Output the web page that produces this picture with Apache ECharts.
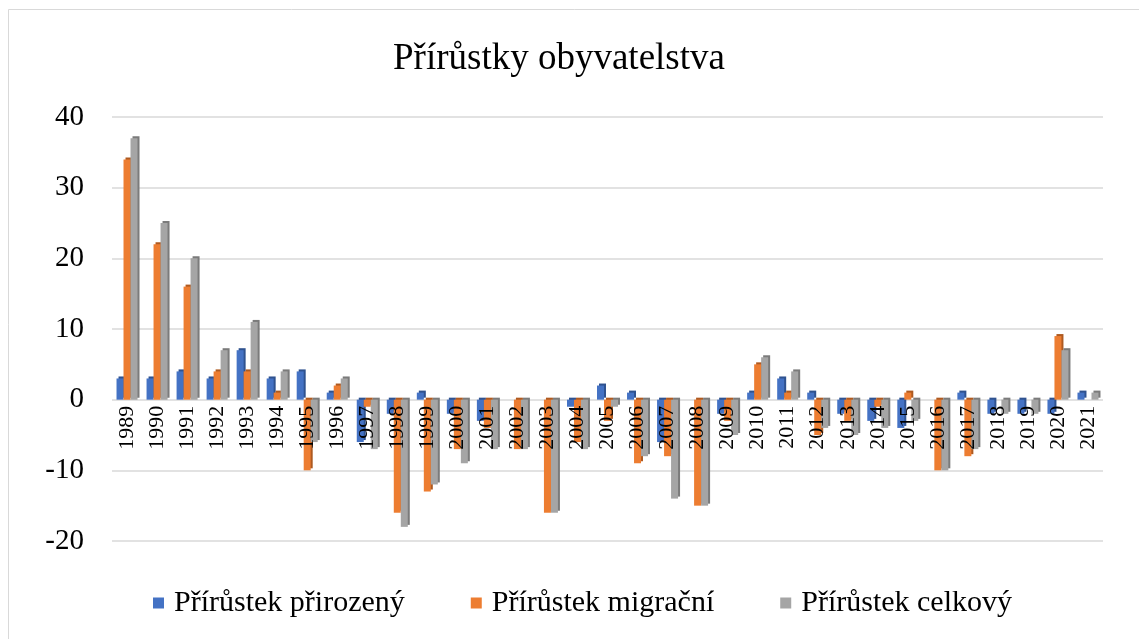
<!DOCTYPE html>
<html>
<head>
<meta charset="utf-8">
<script src="https://cdn.jsdelivr.net/npm/echarts@6/dist/echarts.min.js"></script>
<style>
html,body{margin:0;padding:0;background:#fff;}
#chart{width:1139px;height:639px;}
</style>
</head>
<body>
<div id="chart"></div>
<script>
const titleText = 'Přírůstky obyvatelstva';
const years = ['1989','1990','1991','1992','1993','1994','1995','1996','1997','1998','1999','2000','2001','2002','2003','2004','2005','2006','2007','2008','2009','2010','2011','2012','2013','2014','2015','2016','2017','2018','2019','2020','2021'];
const seriesNames = ['Přírůstek přirozený','Přírůstek migrační','Přírůstek celkový'];
const prirozeny = [3,3,4,3,7,3,4,1,-6,-2,1,-2,-3,0,0,-1,2,1,-6,0,-2,1,3,1,-2,-3,-4,0,1,-2,-2,-2,1];
const migracni  = [34,22,16,4,4,1,-10,2,-1,-16,-13,-7,-4,-7,-16,-6,-3,-9,-8,-15,-3,5,1,-5,-3,-1,1,-10,-8,0,0,9,0];
const celkovy   = [37,25,20,7,11,4,-6,3,-7,-18,-12,-9,-7,-7,-16,-7,-1,-8,-14,-15,-5,6,4,-4,-5,-4,-3,-10,-7,-2,-2,7,1];
const yMin = -20, yMax = 40, yStep = 10;

const colors = ['#4472C4','#ED7D31','#A5A5A5'];
const shadows = ['#2F528F','#AE5A21','#7B7B7B'];
const font = '"Liberation Serif","Times New Roman",serif';

const gridTop = 117, gridBottom = 98, H = 639;
const chart = echarts.init(document.getElementById('chart'));
const mk = (name, data, i) => ({
  name: name,
  type: 'bar',
  data: data,
  barWidth: 7,
  barGap: '0%',
  itemStyle: {
    color: colors[i],
    shadowColor: shadows[i],
    shadowOffsetX: 2,
    shadowOffsetY: -2,
    shadowBlur: 0
  }
});
// distance from the bottom of the plot to the zero line (used to put labels under zero)
const plotH = H - gridTop - gridBottom;
const zeroFromBottom = plotH * (0 - yMin) / (yMax - yMin);
chart.setOption({
  animation: false,
  backgroundColor: '#fff',
  graphic: [{
    type: 'rect',
    shape: {x: 8.5, y: 9.5, width: 1140, height: 640},
    style: {fill: 'none', stroke: '#d9d9d9', lineWidth: 1}
  }],
  title: {
    text: titleText,
    left: 388,
    top: 36,
    textStyle: {fontFamily: font, fontSize: 37, fontWeight: 'normal', color: '#000'}
  },
  legend: {
    bottom: 16,
    left: 148,
    icon: 'rect',
    itemWidth: 11,
    itemHeight: 11,
    itemGap: 66,
    textStyle: {fontFamily: font, fontSize: 30, color: '#000', padding: [0, 0, 0, 5]},
    data: seriesNames
  },
  grid: {left: 112, right: 36, top: gridTop, bottom: gridBottom, containLabel: false},
  xAxis: {
    type: 'category',
    data: years,
    z: 10,
    axisTick: {show: false},
    axisLine: {onZero: false, show: false},
    axisLabel: {rotate: 90, margin: 6 - zeroFromBottom, interval: 0, fontFamily: font, fontSize: 22, color: '#000'},
    splitLine: {show: false}
  },
  yAxis: {
    type: 'value',
    min: yMin, max: yMax, interval: yStep,
    axisLine: {show: false},
    axisTick: {show: false},
    axisLabel: {margin: 28, align: 'right', fontFamily: font, fontSize: 29, color: '#000'},
    splitLine: {lineStyle: {color: '#d9d9d9', width: 1.5}}
  },
  series: [
    mk(seriesNames[0], prirozeny, 0),
    mk(seriesNames[1], migracni, 1),
    mk(seriesNames[2], celkovy, 2)
  ]
});
</script>
</body>
</html>
